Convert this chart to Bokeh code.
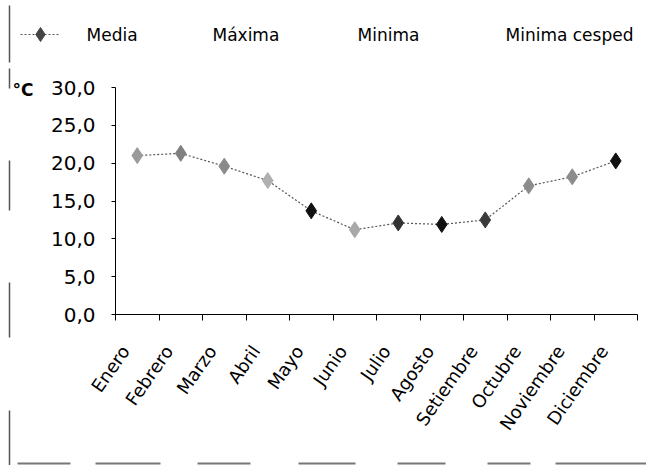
import math
from bokeh.plotting import figure
from bokeh.models import ColumnDataSource, FixedTicker, Range1d
from bokeh.core.properties import value
from bokeh.embed import file_html
from bokeh.resources import INLINE

months = ["Enero", "Febrero", "Marzo", "Abril", "Mayo", "Junio", "Julio",
          "Agosto", "Setiembre", "Octubre", "Noviembre", "Diciembre"]
media = [21.0, 21.3, 19.6, 17.7, 13.7, 11.2, 12.1, 11.9, 12.5, 17.0, 18.2, 20.3]
legend_names = ["Media", "Máxima", "Minima", "Minima cesped"]
y_ticks = [0, 5, 10, 15, 20, 25, 30]
y_tick_labels = ["0,0", "5,0", "10,0", "15,0", "20,0", "25,0", "30,0"]

marker_colors = ["#9a9a9a", "#808080", "#8a8a8a", "#b0b0b0", "#111111", "#a8a8a8",
                 "#333333", "#111111", "#3a3a3a", "#8c8c8c", "#8c8c8c", "#111111"]

FONT = "DejaVu Sans"
W, H = 646, 465
# layout geometry of the plotting area (pixels)
PX_LEFT, PX_RIGHT, PX_TOP, PX_BOTTOM = 115, 637, 87, 314
n = len(months)
xs = (PX_RIGHT - PX_LEFT) / n          # px per category
ys = (PX_BOTTOM - PX_TOP) / 30.0       # px per degree


def X(px):
    return (px - PX_LEFT) / xs


def Y(py):
    return (PX_BOTTOM - py) / ys


xpos = [i + 0.5 for i in range(n)]
label_shift = 12 / xs                  # rotated labels sit slightly left of centre
label_pos = [x - label_shift for x in xpos]
src = ColumnDataSource(dict(x=xpos, y=media, c=marker_colors))

p = figure(width=W, height=H, output_backend="svg", toolbar_location=None,
           x_range=Range1d(X(0), X(W)), y_range=Range1d(Y(H), Y(0)),
           min_border=0, min_border_left=0, min_border_right=0,
           min_border_top=0, min_border_bottom=0)
p.outline_line_color = None
p.xgrid.visible = False
p.ygrid.visible = False

p.line("x", "y", source=src, line_color="#555555", line_dash="2 2", line_width=1.2)
p.scatter("x", "y", source=src, marker="diamond", size=16, fill_color="c", line_color="c")

# x axis
p.xaxis.fixed_location = 0
p.xaxis.bounds = (0, n)
p.xaxis.ticker = FixedTicker(ticks=label_pos, minor_ticks=list(range(n + 1)))
p.xaxis.major_label_overrides = {x: m for x, m in zip(label_pos, months)}
p.xaxis.major_label_orientation = math.radians(55)
p.xaxis.major_tick_out = 0
p.xaxis.major_tick_in = 0
p.xaxis.minor_tick_out = 6
p.xaxis.minor_tick_in = 0
p.xaxis.axis_line_color = "black"
p.xaxis.major_label_text_font = FONT
p.xaxis.major_label_text_font_size = "18px"
p.xaxis.major_label_text_color = "black"
p.xaxis.major_label_standoff = 27

# y axis
p.yaxis.fixed_location = 0
p.yaxis.bounds = (0, 30)
p.yaxis.ticker = FixedTicker(ticks=y_ticks, minor_ticks=[])
p.yaxis.major_label_overrides = {t: l for t, l in zip(y_ticks, y_tick_labels)}
p.yaxis.major_tick_out = 4
p.yaxis.major_tick_in = 0
p.yaxis.minor_tick_out = 0
p.yaxis.axis_line_color = "black"
p.yaxis.major_label_text_font = FONT
p.yaxis.major_label_text_font_size = "20px"
p.yaxis.major_label_text_color = "black"
p.yaxis.major_label_standoff = 16

# unit label
p.text(x=[X(12)], y=[Y(89)], text=["°C"], text_font=value(FONT),
       text_font_size="17px", text_font_style="bold", text_color="black",
       text_baseline="middle")

# legend row
p.line(x=[X(20), X(60)], y=[Y(34), Y(34)], line_color="#555555", line_dash="2 2",
       line_width=1.2)
p.scatter(x=[X(40)], y=[Y(34)], marker="diamond", size=14, fill_color="#444444",
          line_color="#444444")
leg_px = [86, 212, 357, 505]
p.text(x=[X(v) for v in leg_px], y=[Y(34)] * len(legend_names), text=legend_names,
       text_font=value(FONT), text_font_size="17px", text_color="black",
       text_baseline="middle")

# scanned frame remnants: left edge and bottom edge
left_segs = [(5, 62), (68, 88), (160, 210), (282, 337), (410, 465)]
for a, b in left_segs:
    p.line(x=[X(9), X(9)], y=[Y(a), Y(b)], line_color="#555555", line_width=1.5)
bottom_segs = [(17, 70), (95, 160), (197, 250), (298, 355), (397, 445), (487, 530), (555, 646)]
for a, b in bottom_segs:
    p.line(x=[X(a), X(b)], y=[Y(463), Y(463)], line_color="#777777", line_width=2)

open("out.html", "w").write(file_html(p, INLINE))
